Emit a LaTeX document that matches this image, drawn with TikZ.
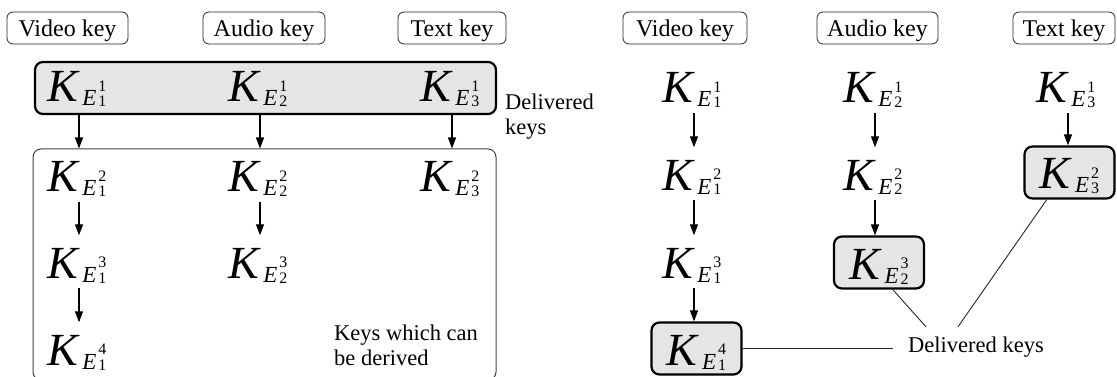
\documentclass[tikz,border=0pt]{standalone}
\usepackage{fontspec}
\setmainfont{Liberation Serif}
\usetikzlibrary{arrows.meta}

% K with subscript E_{#1}^{#2}
\newcommand{\keyname}[2]{%
  {\fontsize{46}{46}\selectfont\itshape K}\kern4.5pt%
  \raisebox{-4pt}{\fontsize{23}{23}\selectfont\itshape E}\kern2pt%
  {\fontsize{16}{16}\selectfont\rlap{\raisebox{10.5pt}{#2}}\raisebox{-5pt}{#1}}}

\begin{document}
\begin{tikzpicture}[x=1pt,y=-1pt,
  lab/.style={draw=black!85, line width=0.8pt, rounded corners=6pt,
    minimum height=32pt, inner sep=0pt, text height=20pt, text depth=2pt,
    font=\fontsize{24}{26}\selectfont},
  key/.style={inner sep=0pt, anchor=base west, text height=30pt, text depth=6pt},
  delivbox/.style={draw=black, line width=2.2pt, fill=black!10,
    rounded corners=8pt, inner sep=0pt},
  keybox/.style={delivbox, minimum width=90pt, minimum height=52pt,
    anchor=base, text height=34pt, text depth=1pt},
  arr/.style={line width=1.2pt, -{Triangle[length=11pt,width=8pt]}, shorten <=4pt},
  arrk/.style={arr, shorten >=12.5pt},
  note/.style={font=\fontsize{22.5}{25}\selectfont, align=left, inner sep=0pt},
  leader/.style={line width=0.9pt, draw=black!85}]

\useasboundingbox (0,0) rectangle (1117,377);

% arrow columns
\coordinate (c1) at (79,0);
\coordinate (c2) at (260,0);
\coordinate (c3) at (452,0);
\coordinate (c4) at (694,0);
\coordinate (c5) at (875,0);
\coordinate (c6) at (1068,0);

% ---------- left scheme ----------
\node[lab, minimum width=121pt] (lvl) at (67.5,28) {Video key};
\node[lab, minimum width=122pt] (lal) at (264,28) {Audio key};
\node[lab, minimum width=108pt] (ltl) at (452,28) {Text key};

\node[delivbox, minimum width=461pt, minimum height=52pt] (lbox) at (265.5,88) {};
\node[draw=black!75, line width=1pt, rounded corners=8pt, inner sep=0pt,
  minimum width=463pt, minimum height=231pt] (lder) at (264.5,264.5) {};

\node[key] (lv1) at (47,102)  {\keyname{1}{1}};
\node[key] (la1) at (228,102) {\keyname{2}{1}};
\node[key] (lt1) at (420,102) {\keyname{3}{1}};
\node[key] (lv2) at (47,192)  {\keyname{1}{2}};
\node[key] (la2) at (228,192) {\keyname{2}{2}};
\node[key] (lt2) at (420,192) {\keyname{3}{2}};
\node[key] (lv3) at (47,278)  {\keyname{1}{3}};
\node[key] (la3) at (228,278) {\keyname{2}{3}};
\node[key] (lv4) at (47,365)  {\keyname{1}{4}};

\draw[arr, shorten <=0pt] (lbox.south -| c1) -- (lder.north -| c1);
\draw[arr, shorten <=0pt] (lbox.south -| c2) -- (lder.north -| c2);
\draw[arr, shorten <=0pt] (lbox.south -| c3) -- (lder.north -| c3);
\draw[arrk] (lv2.south -| c1) -- (lv3.north -| c1);
\draw[arrk] (lv3.south -| c1) -- (lv4.north -| c1);
\draw[arrk] (la2.south -| c2) -- (la3.north -| c2);

\node[note, anchor=west] (dl) at (505,117) {Delivered\\keys};
\node[note, anchor=west] (kd) at (334,345) {Keys which can\\be derived};

% ---------- right scheme ----------
\node[lab, minimum width=124pt] (rvl) at (685,28) {Video key};
\node[lab, minimum width=121pt] (ral) at (877.5,28) {Audio key};
\node[lab, minimum width=102pt] (rtl) at (1064,28) {Text key};

\node[key] (rv1) at (662,103)  {\keyname{1}{1}};
\node[key] (rv2) at (662,190)  {\keyname{1}{2}};
\node[key] (rv3) at (662,278)  {\keyname{1}{3}};
\node[keybox] (rv4) at (696.5,365) {\keyname{1}{4}};
\node[key] (ra1) at (843,103)  {\keyname{2}{1}};
\node[key] (ra2) at (843,190)  {\keyname{2}{2}};
\node[keybox] (ra3) at (879,279) {\keyname{2}{3}};
\node[key] (rt1) at (1036,103) {\keyname{3}{1}};
\node[keybox] (rt2) at (1069.5,189) {\keyname{3}{2}};

\draw[arrk] (rv1.south -| c4) -- (rv2.north -| c4);
\draw[arrk] (rv2.south -| c4) -- (rv3.north -| c4);
\draw[arr]  (rv3.south -| c4) -- (rv4.north -| c4);
\draw[arrk] (ra1.south -| c5) -- (ra2.north -| c5);
\draw[arr]  (ra2.south -| c5) -- (ra3.north -| c5);
\draw[arr]  (rt1.south -| c6) -- (rt2.north -| c6);

\node[font=\fontsize{22.5}{25}\selectfont, inner xsep=15pt, inner ysep=9pt,
  text height=16pt, text depth=5pt, anchor=base west] (dk) at (893,352) {Delivered keys};

\draw[leader] (rv4.east) -- (rv4.east -| dk.west);
\draw[leader] (ra3.-63) -- ([xshift=-50pt]dk.north);
\draw[leader] (rt2.230) -- ([xshift=-18pt]dk.north);
\end{tikzpicture}
\end{document}
